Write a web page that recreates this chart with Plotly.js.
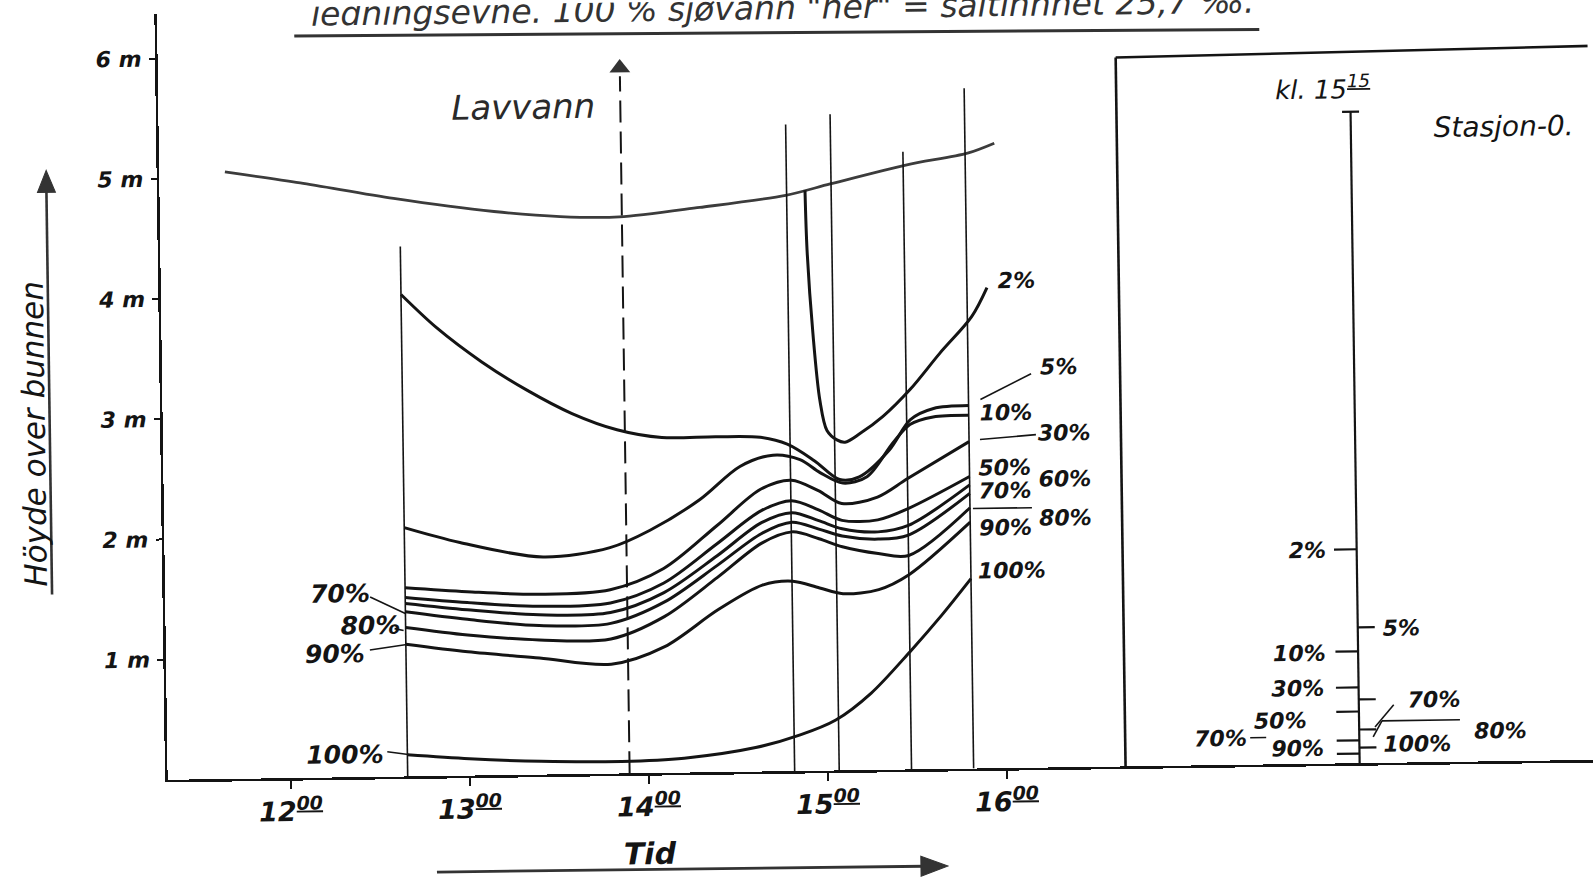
<!DOCTYPE html>
<html>
<head>
<meta charset="utf-8">
<script src="https://cdn.plot.ly/plotly-3.0.1.min.js"></script>
<style>
  html, body { margin: 0; padding: 0; background: #fff; overflow: hidden; }
  #chart { width: 1593px; height: 884px; transform: rotate(-0.8deg); transform-origin: 796px 442px; }
</style>
</head>
<body>
<div id="chart"></div>
<script>
// Times are decimal hours, heights are metres above the bottom.

// Water surface through the afternoon
const surfaceTime   = [11.68, 12.10, 12.62, 13.18, 13.55, 13.88, 14.33, 14.81, 15.06, 15.49, 15.83, 15.98];
const surfaceHeight = [5.05, 4.95, 4.81, 4.69, 4.64, 4.63, 4.70, 4.79, 4.88, 5.03, 5.12, 5.20];

// Profiling times (vertical lines) and their upper ends
const profileTime = [12.654, 14.816, 15.065, 15.469, 15.816];
const profileTop  = [4.41, 5.38, 5.46, 5.14, 5.66];

// Low water
const lowWaterTime = 13.894;
const lowWaterTop  = 5.80;

// Isolines of conductivity, % of sea water
const t2  = [14.919, 14.926, 14.952, 14.986, 15.023, 15.078, 15.123, 15.207, 15.337, 15.490, 15.660, 15.840, 15.928];
const h2  = [4.83, 4.33, 3.64, 3.08, 2.83, 2.75, 2.73, 2.80, 2.94, 3.16, 3.46, 3.76, 4.00];

const t5  = [12.654, 12.85, 13.1, 13.35, 13.6, 13.85, 14.1, 14.4, 14.65, 14.8, 14.95, 15.09, 15.2, 15.37, 15.49, 15.62, 15.816];
const h5  = [4.01, 3.73, 3.44, 3.20, 3.00, 2.86, 2.79, 2.79, 2.78, 2.72, 2.58, 2.42, 2.44, 2.66, 2.91, 3.00, 3.02];

const t10 = [12.654, 12.964, 13.427, 13.802, 14.027, 14.308, 14.534, 14.719, 14.870, 14.981, 15.108, 15.243, 15.391, 15.487, 15.617, 15.816];
const h10 = [2.07, 1.94, 1.81, 1.88, 2.02, 2.27, 2.54, 2.63, 2.59, 2.48, 2.39, 2.44, 2.72, 2.87, 2.93, 2.94];

const tB  = [12.654, 13.0, 13.4, 13.8, 14.1, 14.4, 14.65, 14.82, 14.97, 15.1, 15.3, 15.47, 15.816];
const h30 = [1.57, 1.53, 1.50, 1.53, 1.70, 2.05, 2.35, 2.42, 2.33, 2.22, 2.27, 2.42, 2.72];
const h50 = [1.49, 1.44, 1.40, 1.42, 1.58, 1.90, 2.17, 2.25, 2.17, 2.08, 2.08, 2.17, 2.43];
const h60 = [1.44, 1.38, 1.33, 1.34, 1.50, 1.80, 2.07, 2.15, 2.08, 2.01, 1.98, 2.03, 2.36];
const h70 = [1.37, 1.30, 1.24, 1.25, 1.42, 1.72, 1.98, 2.07, 2.01, 1.95, 1.92, 1.95, 2.29];
const h80 = [1.24, 1.17, 1.12, 1.12, 1.30, 1.62, 1.90, 1.99, 1.93, 1.86, 1.80, 1.78, 2.17];
const h90 = [1.10, 1.03, 0.97, 0.91, 1.05, 1.35, 1.55, 1.58, 1.52, 1.47, 1.50, 1.62, 2.05];

const t100 = [12.654, 13.0, 13.4, 13.85, 14.2, 14.6, 14.85, 15.05, 15.25, 15.47, 15.65, 15.816];
const h100 = [0.18, 0.14, 0.11, 0.10, 0.12, 0.20, 0.30, 0.42, 0.64, 0.98, 1.28, 1.58];

// Station 0 profile at 15:15
const stationTop = 5.42;
const stationLeftLabels   = ['2%', '10%', '30%', '50%', '70%', '90%'];
const stationLeftHeights  = [1.78, 0.93, 0.63, 0.43, 0.19, 0.08];
const stationRightLabels  = ['5%', '70%', '80%', '100%'];
const stationRightHeights = [1.13, 0.53, 0.28, 0.13];

// Axis ticks
const hourTicks  = [12, 13, 14, 15, 16];
const hourLabels = hourTicks.map(h => h + '<sup><u>00</u></sup>');
const metreTicks = [1, 2, 3, 4, 5, 6];
const metreLabels = metreTicks.map(m => m + ' m');

// ---- page geometry (pixels) ----
const L = 163, T = 5, PW = 1430, PH = 766;
const PXM = 179;            // pixels per hour
const PYM = PH / 6.373;     // pixels per metre
const xMin = 12 + (L - 286) / PXM;
const mainW = 958;
const px = u => (u - L) / PW;
const py = v => (T + PH - v) / PH;

const FONT = '"DejaVu Sans", "Liberation Sans", sans-serif';
const INK = '#141414';

const curveLine = { color: INK, width: 3, shape: 'spline', smoothing: 0.9 };
const traces = [];

traces.push({ x: surfaceTime, y: surfaceHeight, mode: 'lines',
  line: { color: '#3c3c3c', width: 2.8, shape: 'spline', smoothing: 0.8 } });

// vertical profiling lines
const vx = [], vy = [];
profileTime.forEach((t, i) => { vx.push(t, t, null); vy.push(0, profileTop[i], null); });
traces.push({ x: vx, y: vy, mode: 'lines', line: { color: INK, width: 1.6 } });

traces.push({ x: [lowWaterTime, lowWaterTime], y: [0, lowWaterTop], mode: 'lines',
  line: { color: INK, width: 2, dash: '22px,9px' } });
traces.push({ x: [lowWaterTime], y: [lowWaterTop + 0.07], mode: 'markers',
  marker: { symbol: 'triangle-up', size: 18, color: '#333' } });

[[t2, h2], [t5, h5], [t10, h10], [tB, h30], [tB, h50], [tB, h60], [tB, h70], [tB, h80], [tB, h90], [t100, h100]]
  .forEach(([t, h]) => traces.push({ x: t, y: h, mode: 'lines', line: curveLine }));

// station 0 profile
const sx = 0.496;
traces.push({ x: [sx, sx, null, sx - 0.018, sx + 0.018], y: [0, stationTop, null, stationTop, stationTop],
  xaxis: 'x2', yaxis: 'y', mode: 'lines', line: { color: INK, width: 2.2 } });
const tkx = [], tky = [];
stationLeftHeights.forEach(h => { tkx.push(sx - 0.048, sx, null); tky.push(h, h, null); });
stationRightHeights.forEach(h => { tkx.push(sx, sx + 0.036, null); tky.push(h, h, null); });
traces.push({ x: tkx, y: tky, xaxis: 'x2', yaxis: 'y', mode: 'lines', line: { color: INK, width: 2.2 } });

// ---- text ----
const ann = [];
function label(text, u, v, size, extra) {
  ann.push(Object.assign({ text, x: px(u), y: py(v), xref: 'paper', yref: 'paper', showarrow: false,
    xanchor: 'center', yanchor: 'middle',
    font: { family: FONT, size, color: INK, style: 'italic' } }, extra || {}));
}
function boldLabel(text, u, v, size) {
  label(text, u, v, size, { font: { family: FONT, size, color: INK, style: 'italic', weight: 'bold' } });
}
label('ledningsevne. 100 % sjøvann "her" = saltinnhet 25,7 ‰.', 788, 8, 33, { font: { family: FONT, size: 33, color: '#333', style: 'italic' } });
label('Lavvann', 528, 103, 34, { font: { family: FONT, size: 34, color: '#2a2a2a', style: 'italic' } });
label('Höyde over bunnen', 34, 423, 31, { textangle: -90 });
boldLabel('Tid', 644, 851, 30);

// curve labels on the right
boldLabel('2%', 1018, 283, 22);
boldLabel('5%', 1059, 371, 22);
boldLabel('10%', 1006, 416, 22);
boldLabel('30%', 1064, 436, 22);
boldLabel('50%', 1004, 470, 22);
boldLabel('60%', 1064, 482, 22);
boldLabel('70%', 1004, 493, 22);
boldLabel('80%', 1064, 521, 22);
boldLabel('90%', 1004, 530, 22);
boldLabel('100%', 1010, 573, 22);
// curve labels on the left
boldLabel('70%', 338, 587, 25);
boldLabel('80%', 368, 619, 25);
boldLabel('90%', 332, 647, 25);
boldLabel('100%', 340, 748, 25);

// station panel
label('kl. 15<sup><u>15</u></sup>', 1327, 95, 26);
label('Stasjon-0.', 1508, 137, 28);
boldLabel('2%', 1305, 557, 22);
boldLabel('10%', 1296, 660, 22);
boldLabel('30%', 1294, 695, 22);
boldLabel('50%', 1276, 727, 22);
boldLabel('70%', 1216, 744, 22);
boldLabel('90%', 1293, 755, 22);
boldLabel('5%', 1398, 636, 22);
boldLabel('70%', 1430, 708, 22);
boldLabel('80%', 1496, 740, 22);
boldLabel('100%', 1413, 752, 22);

// ---- lines, arrows and frames ----
const shapes = [];
function seg(u0, v0, u1, v1, w, c) {
  shapes.push({ type: 'line', xref: 'paper', yref: 'paper', x0: px(u0), y0: py(v0), x1: px(u1), y1: py(v1),
    line: { color: c || INK, width: w || 1.6 } });
}
function tri(pts, c) {
  const d = pts.map((p, i) => (i ? 'L' : 'M') + px(p[0]) + ',' + py(p[1])).join(' ') + ' Z';
  shapes.push({ type: 'path', xref: 'paper', yref: 'paper', path: d, fillcolor: c, line: { color: c, width: 1 } });
}
seg(300, 29, 1265, 36, 3, '#333');            // title underline
seg(50, 584, 50, 178, 2.6, '#333');            // height arrow
tri([[50, 160], [41, 182], [59, 182]], '#333');
seg(431, 867, 918, 868, 2.8, '#333');          // time arrow
tri([[942, 868], [915, 858], [915, 878]], '#333');
seg(1121, 771, 1121, 62, 2.6);                 // station panel frame
seg(1121, 62, 1600, 57, 2.6);
seg(981, 402, 1032, 377);                      // 5%
seg(980, 442, 1036, 438);                      // 30%
seg(972, 511, 1031, 511);                      // 70 / 80%
seg(368, 591, 403, 608);                       // left 70%
seg(392, 623, 401, 625);                       // left 80%
seg(367, 644, 404, 639);                       // left 90%
seg(383, 746, 404, 749);                       // left 100%
seg(1246, 744, 1262, 744);                     // station 70%
seg(1371, 735, 1390, 713);                     // station 70% right
seg(1378, 729, 1456, 729);                     // station 80%
seg(1378, 729, 1369, 745);

const layout = {
  width: 1593, height: 884,
  margin: { l: L, r: 0, t: T, b: 884 - T - PH },
  paper_bgcolor: '#fff', plot_bgcolor: '#fff',
  showlegend: false,
  xaxis: {
    domain: [0, mainW / PW], range: [xMin, xMin + mainW / PXM],
    showgrid: false, zeroline: false, showline: true, linecolor: INK, linewidth: 2.6,
    ticks: 'outside', ticklen: 8, tickwidth: 2, tickcolor: INK,
    tickvals: hourTicks, ticktext: hourLabels, ticklabelstandoff: 0,
    tickfont: { family: FONT, size: 27, color: INK, style: 'italic', weight: 'bold' }
  },
  xaxis2: {
    domain: [mainW / PW, 1], range: [0, 1], anchor: 'y',
    showgrid: false, zeroline: false, showline: true, linecolor: INK, linewidth: 2.6,
    showticklabels: false, ticks: ''
  },
  yaxis: {
    range: [0, PH / PYM], showgrid: false, zeroline: false,
    showline: true, linecolor: INK, linewidth: 2.6,
    ticks: 'outside', ticklen: 6, tickwidth: 2, tickcolor: INK,
    tickvals: metreTicks, ticktext: metreLabels, ticklabelstandoff: 3,
    tickfont: { family: FONT, size: 22, color: INK, style: 'italic', weight: 'bold' }
  },
  annotations: ann,
  shapes: shapes
};

Plotly.newPlot('chart', traces, layout, { staticPlot: true, displayModeBar: false });
</script>
</body>
</html>
